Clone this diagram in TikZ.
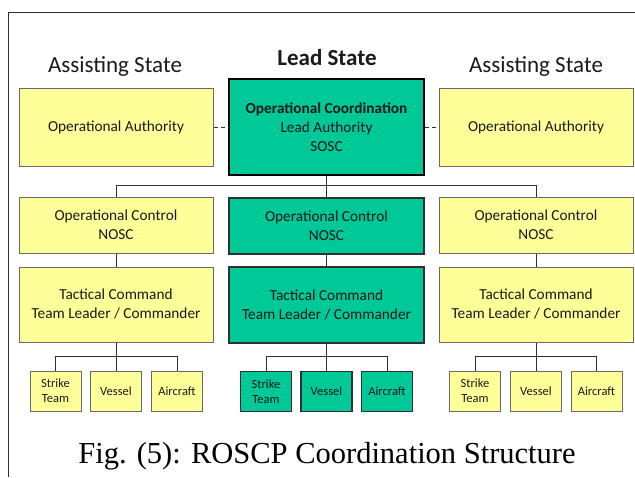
\documentclass[tikz,border=0pt]{standalone}
\usepackage{fontspec}
\setmainfont{Carlito}
\newfontfamily\capfont{Liberation Serif}
\definecolor{ylw}{HTML}{FFFF99}
\definecolor{grn}{HTML}{00C896}
\definecolor{ybord}{HTML}{6A6A6A}
\definecolor{gbord}{HTML}{303030}
\definecolor{txt}{HTML}{1A1A1A}
\tikzset{
  box/.style={draw, rectangle, inner sep=0pt, align=center, text=txt,
     font=\fontsize{15.3}{19}\selectfont, line width=1pt},
  ybox/.style={box, fill=ylw, draw=ybord},
  gbox/.style={box, fill=grn, draw=gbord, line width=1.4pt},
  wide/.style={minimum width=194pt},
  leaf/.style={minimum width=51pt, minimum height=40pt, font=\fontsize{12.5}{15}\selectfont},
  conn/.style={draw=gbord, line width=1pt},
  hdr/.style={font=\fontsize{23}{26}\selectfont, text=txt}
}
\begin{document}
\begin{tikzpicture}[x=1pt,y=-1pt]
\useasboundingbox (0,0) rectangle (635,477);
\draw[gbord, line width=0.8pt] (8,477) -- (8,12) -- (635,12);

\node[hdr] (hl) at (115,67) {Assisting State};
\node[hdr, font=\fontsize{23}{26}\selectfont\bfseries] (hc) at (327,58) {Lead State};
\node[hdr] (hr) at (536,67) {Assisting State};

% row 1
\node[ybox, wide, minimum height=78pt] (lOA) at (116,127) {Operational Authority};
\node[gbox, minimum width=195pt, minimum height=96pt, draw=black, line width=2.2pt] (cOA) at (326.5,127)
  {\textbf{Operational Coordination}\\Lead Authority\\SOSC};
\node[ybox, wide, minimum height=78pt] (rOA) at (536,127) {Operational Authority};

% row 2
\node[ybox, wide, minimum height=56pt] (lOC) at (116,225) {Operational Control\\NOSC};
\node[gbox, minimum width=195pt, minimum height=56pt] (cOC) at (326.5,226) {Operational Control\\NOSC};
\node[ybox, wide, minimum height=56pt] (rOC) at (536,225) {Operational Control\\NOSC};

% row 3
\node[ybox, wide, minimum height=75pt] (lTC) at (116,304.5) {Tactical Command\\Team Leader / Commander};
\node[gbox, minimum width=195pt, minimum height=76pt] (cTC) at (326.5,305) {Tactical Command\\Team Leader / Commander};
\node[ybox, wide, minimum height=75pt] (rTC) at (536,304.5) {Tactical Command\\Team Leader / Commander};

% leaves
\node[ybox, leaf] (l1) at (55.5,391) {Strike\\Team};
\node[ybox, leaf] (l2) at (116,391) {Vessel};
\node[ybox, leaf] (l3) at (177,391) {Aircraft};
\node[gbox, leaf] (c1) at (266,391.5) {Strike\\Team};
\node[gbox, leaf] (c2) at (326.5,391.5) {Vessel};
\node[gbox, leaf] (c3) at (387,391.5) {Aircraft};
\node[ybox, leaf] (r1) at (475,391) {Strike\\Team};
\node[ybox, leaf] (r2) at (536,391) {Vessel};
\node[ybox, leaf] (r3) at (596.5,391) {Aircraft};

% connectors
\draw[conn, dashed, dash pattern=on 4pt off 3pt] (lOA.east) -- (cOA.west);
\draw[conn, dashed, dash pattern=on 4pt off 3pt] (cOA.east) -- (rOA.west);
\draw[conn] (cOA.south) -- (cOA.south |- cOC.north);
\draw[conn] (lOC.north) -- ++(0,-11) -| (rOC.north);
\foreach \s in {l,c,r}{
  \draw[conn] (\s OC.south) -- (\s TC.north);
  \draw[conn] (\s TC.south) -- (\s TC.south |- \s 2.north);
  \draw[conn] (\s 1.north) -- ++(0,-14) -| (\s 3.north);
}

\node[font=\capfont\fontsize{30.5}{34}\selectfont, text=black] (cap) at (327,456) {Fig. (5): ROSCP Coordination Structure};
\end{tikzpicture}
\end{document}
